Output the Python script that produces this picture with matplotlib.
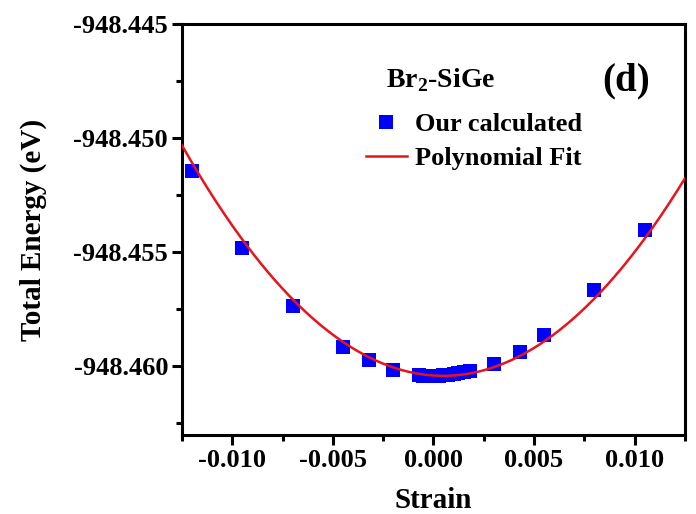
import matplotlib

matplotlib.use("Agg")
import matplotlib.pyplot as plt
import numpy as np
from matplotlib.ticker import FormatStrFormatter, MultipleLocator

plt.rcParams["font.family"] = ["Liberation Serif", "DejaVu Serif"]
plt.rcParams["font.weight"] = "bold"
plt.rcParams["axes.unicode_minus"] = False
plt.rcParams["mathtext.fontset"] = "custom"
plt.rcParams["mathtext.rm"] = "Liberation Serif:bold"
plt.rcParams["mathtext.bf"] = "Liberation Serif:bold"

# 读图得到的数据点 (strain, total energy)
strain = [-0.0120, -0.0095, -0.0070, -0.0045, -0.0032, -0.0020,
          -0.0007, -0.0005, -0.0003, 0.0000, 0.0003, 0.0005, 0.0007,
          0.0010, 0.0012, 0.0015, 0.0018,
          0.0030, 0.0043, 0.0055, 0.0080, 0.0105]
energy = [-948.45146, -948.45481, -948.45738, -948.45915, -948.45976, -948.46016,
          -948.46040, -948.46042, -948.46043, -948.46043, -948.46042, -948.46040, -948.46038,
          -948.46035, -948.46032, -948.46028, -948.46023,
          -948.45991, -948.45940, -948.45866, -948.45666, -948.45402]

# 拟合曲线系数 (E = c2*s^2 + c1*s + c0)，按图中红线读取
fit_coef = [60.0, -0.058, -948.46042]

xticks = [-0.010, -0.005, 0.000, 0.005, 0.010]
yticks = [-948.445, -948.450, -948.455, -948.460]

xf = np.linspace(-0.0125, 0.0125, 300)
yf = fit_coef[0] * xf**2 + fit_coef[1] * xf + fit_coef[2]

fig = plt.figure(figsize=(6.96, 5.14), dpi=100)
ax = fig.add_axes([0.2615, 0.1537, 0.7225, 0.7993])

ax.plot(strain, energy, "s", color="#0000FF", markersize=9.4, markeredgewidth=0,
        label="Our calculated", zorder=2)
ax.plot(xf, yf, color="#E8141B", linewidth=1.8, label="Polynomial Fit", zorder=3)

ax.set_xlim(-0.0125, 0.0125)
ax.set_ylim(-948.46303, -948.445)
ax.set_xticks(xticks)
ax.set_yticks(yticks)
ax.xaxis.set_minor_locator(MultipleLocator(0.0025))
ax.yaxis.set_minor_locator(MultipleLocator(0.0025))
ax.xaxis.set_major_formatter(FormatStrFormatter("%.3f"))
ax.yaxis.set_major_formatter(FormatStrFormatter("%.3f"))

for sp in ax.spines.values():
    sp.set_linewidth(2.2)
ax.tick_params(which="major", direction="out", length=7, width=2.2,
               labelsize=19, top=False, right=False, pad=3)
ax.tick_params(which="minor", direction="out", length=4.5, width=2.2,
               top=False, right=False)

ax.set_xlabel("Strain", fontsize=21, fontweight="bold", labelpad=11)
ax.set_ylabel("Total Energy (eV)", fontsize=21, fontweight="bold", labelpad=19)

ax.text(0.405, 0.865, r"Br$_2$-SiGe", transform=ax.transAxes, fontsize=20,
        fontweight="bold", va="center", ha="left")
ax.text(0.93, 0.862, "(d)", transform=ax.transAxes, fontsize=28,
        fontweight="bold", va="center", ha="right")

leg = ax.legend(loc="upper left", bbox_to_anchor=(0.345, 0.81), frameon=False,
                fontsize=19, handlelength=1.55, handletextpad=0.3,
                labelspacing=0.4, borderaxespad=0, markerscale=1.0)

fig.savefig("out.png", dpi=100)
